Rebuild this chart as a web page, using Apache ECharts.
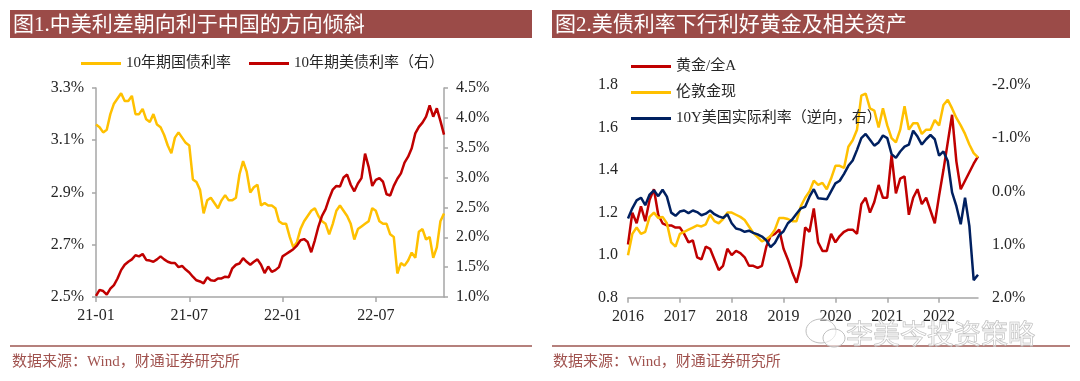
<!DOCTYPE html>
<html><head><meta charset="utf-8">
<script src="https://cdn.jsdelivr.net/npm/echarts@6/dist/echarts.min.js"></script>
<style>html,body{margin:0;padding:0;background:#fff}#c{width:1080px;height:381px}</style>
</head><body><div id="c"></div>
<script>
// ---- Figure 1: weekly dates (2021-01-04 .. 2022-11-14)
const weeks = [
'2021-01-04','2021-01-11','2021-01-18','2021-01-25','2021-02-01','2021-02-08','2021-02-15','2021-02-22',
'2021-03-01','2021-03-08','2021-03-15','2021-03-22','2021-03-29','2021-04-05','2021-04-12','2021-04-19','2021-04-26',
'2021-05-03','2021-05-10','2021-05-17','2021-05-24','2021-05-31','2021-06-07','2021-06-14','2021-06-21','2021-06-28',
'2021-07-05','2021-07-12','2021-07-19','2021-07-26','2021-08-02','2021-08-09','2021-08-16','2021-08-23','2021-08-30',
'2021-09-06','2021-09-13','2021-09-20','2021-09-27','2021-10-04','2021-10-11','2021-10-18','2021-10-25',
'2021-11-01','2021-11-08','2021-11-15','2021-11-22','2021-11-29','2021-12-06','2021-12-13','2021-12-20','2021-12-27',
'2022-01-03','2022-01-10','2022-01-17','2022-01-24','2022-01-31','2022-02-07','2022-02-14','2022-02-21','2022-02-28',
'2022-03-07','2022-03-14','2022-03-21','2022-03-28','2022-04-04','2022-04-11','2022-04-18','2022-04-25',
'2022-05-02','2022-05-09','2022-05-16','2022-05-23','2022-05-30','2022-06-06','2022-06-13','2022-06-20','2022-06-27',
'2022-07-04','2022-07-11','2022-07-18','2022-07-25','2022-08-01','2022-08-08','2022-08-15','2022-08-22','2022-08-29',
'2022-09-05','2022-09-12','2022-09-19','2022-09-26','2022-10-03','2022-10-10','2022-10-17','2022-10-24','2022-10-31',
'2022-11-07','2022-11-14'];
// 10年期国债利率 (%)
const cn10y = [
3.16,3.15,3.13,3.14,3.20,3.24,3.26,3.28,3.25,3.25,
3.27,3.20,3.20,3.22,3.18,3.17,3.20,3.16,3.15,3.12,
3.08,3.05,3.11,3.13,3.11,3.09,3.08,2.95,2.94,2.91,
2.82,2.87,2.88,2.86,2.84,2.87,2.89,2.87,2.87,2.88,
2.97,3.02,2.98,2.90,2.92,2.93,2.85,2.86,2.85,2.85,
2.84,2.79,2.78,2.78,2.73,2.69,2.71,2.76,2.79,2.81,
2.83,2.84,2.81,2.79,2.78,2.74,2.78,2.83,2.85,2.83,
2.81,2.78,2.72,2.76,2.77,2.78,2.79,2.84,2.83,2.79,
2.78,2.78,2.74,2.73,2.59,2.63,2.62,2.64,2.67,2.65,
2.75,2.76,2.72,2.73,2.65,2.69,2.79,2.82];
// 10年期美债利率 (%)
const us10y = [
1.02,1.12,1.10,1.04,1.14,1.20,1.31,1.45,1.54,1.59,
1.63,1.70,1.68,1.72,1.62,1.61,1.59,1.63,1.68,1.63,
1.59,1.57,1.57,1.50,1.52,1.46,1.41,1.34,1.28,1.26,
1.23,1.33,1.28,1.27,1.31,1.31,1.34,1.33,1.48,1.54,
1.56,1.65,1.59,1.54,1.59,1.63,1.54,1.40,1.51,1.42,
1.45,1.50,1.68,1.72,1.76,1.80,1.86,1.95,1.97,1.92,
1.75,1.95,2.18,2.36,2.47,2.65,2.80,2.86,2.85,3.00,
3.05,2.88,2.77,2.90,2.99,3.40,3.18,2.86,2.96,2.99,
2.93,2.72,2.70,2.86,2.98,3.07,3.25,3.35,3.49,3.74,
3.85,3.92,4.02,4.21,4.02,4.16,3.95,3.72];

// ---- Figure 2: monthly (2016-01 .. 2022-10)
const months = [
'2016-01','2016-02','2016-03','2016-04','2016-05','2016-06','2016-07','2016-08','2016-09','2016-10','2016-11','2016-12',
'2017-01','2017-02','2017-03','2017-04','2017-05','2017-06','2017-07','2017-08','2017-09','2017-10','2017-11','2017-12',
'2018-01','2018-02','2018-03','2018-04','2018-05','2018-06','2018-07','2018-08','2018-09','2018-10','2018-11','2018-12',
'2019-01','2019-02','2019-03','2019-04','2019-05','2019-06','2019-07','2019-08','2019-09','2019-10','2019-11','2019-12',
'2020-01','2020-02','2020-03','2020-04','2020-05','2020-06','2020-07','2020-08','2020-09','2020-10','2020-11','2020-12',
'2021-01','2021-02','2021-03','2021-04','2021-05','2021-06','2021-07','2021-08','2021-09','2021-10','2021-11','2021-12',
'2022-01','2022-02','2022-03','2022-04','2022-05','2022-06','2022-07','2022-08','2022-09','2022-10'];
// 黄金/全A
const goldToA = [
1.05,1.20,1.15,1.23,1.16,1.26,1.31,1.19,1.15,1.14,
1.14,1.13,1.13,1.10,1.06,1.07,0.99,0.98,1.04,1.03,
0.98,0.93,0.95,1.03,1.00,1.02,1.01,0.99,0.95,0.95,
0.94,0.95,1.04,1.09,1.10,1.12,1.03,0.98,0.92,0.87,
0.95,1.13,1.11,1.22,1.06,1.02,1.02,1.10,1.06,1.09,
1.11,1.12,1.12,1.10,1.24,1.27,1.20,1.25,1.33,1.27,
1.27,1.47,1.29,1.36,1.37,1.19,1.27,1.31,1.24,1.27,
1.21,1.15,1.28,1.40,1.53,1.66,1.44,1.31,1.35,1.39,
1.43,1.465];
// 伦敦金现
const londonGold = [
1.00,1.10,1.13,1.10,1.11,1.18,1.20,1.175,1.18,1.15,
1.06,1.04,1.10,1.11,1.12,1.13,1.14,1.135,1.145,1.19,
1.16,1.15,1.17,1.20,1.20,1.19,1.18,1.165,1.135,1.105,
1.085,1.065,1.075,1.09,1.12,1.175,1.175,1.17,1.16,1.16,
1.23,1.27,1.30,1.35,1.33,1.34,1.31,1.36,1.42,1.42,
1.41,1.51,1.54,1.59,1.75,1.76,1.69,1.68,1.60,1.69,
1.61,1.55,1.53,1.59,1.70,1.59,1.62,1.62,1.57,1.59,
1.59,1.635,1.61,1.706,1.73,1.69,1.645,1.61,1.57,1.52,
1.48,1.46];
// 10Y美国实际利率 (%)
const usReal10y = [
0.51,0.32,0.17,0.12,0.26,0.06,-0.02,0.09,-0.03,0.10,
0.40,0.46,0.38,0.36,0.41,0.36,0.39,0.45,0.42,0.36,
0.43,0.47,0.50,0.43,0.60,0.70,0.72,0.76,0.74,0.78,
0.81,0.85,0.92,1.05,0.97,0.82,0.75,0.60,0.53,0.42,
0.32,0.29,0.10,-0.04,0.13,0.14,0.15,0.00,-0.15,-0.20,
-0.33,-0.48,-0.58,-0.78,-1.00,-1.08,-0.97,-0.86,-0.92,-1.05,
-1.00,-0.70,-0.63,-0.75,-0.84,-0.88,-1.14,-1.03,-0.88,-0.98,
-1.06,-0.98,-0.67,-0.75,-0.57,0.02,0.28,0.62,0.12,0.65,
1.67,1.57];

const title1 = '图1.中美利差朝向利于中国的方向倾斜';
const title2 = '图2.美债利率下行利好黄金及相关资产';
const sourceText = '数据来源：Wind，财通证券研究所';
const watermark = '李美岑投资策略';
const names = ['10年期国债利率','10年期美债利率（右）','黄金/全A','伦敦金现','10Y美国实际利率（逆向，右）'];

const SERIF = '"Liberation Serif","Noto Sans CJK SC",serif';
const BRICK = '#9B4B48';
const AXIS = '#A6A6A6';
const TXT = '#262626';
const YEL = '#FFC000', RED = '#C00000', NAVY = '#002060';

const chart = echarts.init(document.getElementById('c'), null, {renderer:'canvas'});

function halfYear(i, v){ const m=v.slice(5,7), d=+v.slice(8,10); return (m==='01'||m==='07') && d<=7; }
function janOnly(i, v){ return v.slice(5,7)==='01'; }

const axLabel = {color:TXT, fontFamily:SERIF, fontSize:16};

chart.setOption({
  animation:false,
  textStyle:{fontFamily:SERIF},
  grid:[
    {left:96, top:88, width:348, height:209, containLabel:false},
    {left:628, top:85, width:350, height:212.7, containLabel:false}
  ],
  legend:[
    {data:[names[0],names[1]], left:76, top:51, orient:'horizontal', icon:'rect',
     itemWidth:40, itemHeight:3, itemGap:18,
     textStyle:{color:TXT, fontFamily:SERIF, fontSize:15}},
    {data:[names[2],names[3],names[4]], left:626, top:54, orient:'vertical', icon:'rect',
     itemWidth:40, itemHeight:3, itemGap:11,
     textStyle:{color:TXT, fontFamily:SERIF, fontSize:15}}
  ],
  xAxis:[
    {type:'category', gridIndex:0, data:weeks, boundaryGap:false, position:'bottom',
     axisLine:{onZero:false, lineStyle:{color:AXIS, width:1.5}},
     axisTick:{interval:halfYear, length:5, lineStyle:{color:AXIS, width:1.5}},
     axisLabel:{...axLabel, interval:halfYear, margin:11, formatter:v=>v.slice(2,7)}},
    {type:'category', gridIndex:1, data:months, boundaryGap:false, position:'bottom',
     axisLine:{onZero:false, lineStyle:{color:AXIS, width:1.5}},
     axisTick:{interval:janOnly, length:5, lineStyle:{color:AXIS, width:1.5}},
     axisLabel:{...axLabel, interval:janOnly, margin:11, formatter:v=>v.slice(0,4)}}
  ],
  yAxis:[
    {type:'value', gridIndex:0, min:2.5, max:3.3, interval:0.2, position:'left',
     axisLine:{show:true, onZero:false, lineStyle:{color:AXIS, width:1.5}},
     axisTick:{show:true, length:4, lineStyle:{color:AXIS, width:1.5}},
     splitLine:{show:false},
     axisLabel:{...axLabel, margin:12, formatter:v=>v.toFixed(1)+'%'}},
    {type:'value', gridIndex:0, min:1.0, max:4.5, interval:0.5, position:'right',
     axisLine:{show:true, onZero:false, lineStyle:{color:AXIS, width:1.5}},
     axisTick:{show:true, length:4, lineStyle:{color:AXIS, width:1.5}},
     splitLine:{show:false},
     axisLabel:{...axLabel, margin:12, formatter:v=>v.toFixed(1)+'%'}},
    {type:'value', gridIndex:1, min:0.8, max:1.8, interval:0.2, position:'left',
     axisLine:{show:false, onZero:false}, axisTick:{show:false}, splitLine:{show:false},
     axisLabel:{...axLabel, margin:10, formatter:v=>v.toFixed(1)}},
    {type:'value', gridIndex:1, min:-2, max:2, interval:1, inverse:true, position:'right',
     axisLine:{show:false, onZero:false}, axisTick:{show:false}, splitLine:{show:false},
     axisLabel:{...axLabel, margin:14, formatter:v=>v.toFixed(1)+'%'}}
  ],
  series:[
    {type:'line', name:names[0], xAxisIndex:0, yAxisIndex:0, data:cn10y, showSymbol:false,
     color:YEL, lineStyle:{color:YEL, width:2.5}},
    {type:'line', name:names[1], xAxisIndex:0, yAxisIndex:1, data:us10y, showSymbol:false,
     color:RED, lineStyle:{color:RED, width:2.5}},
    {type:'line', name:names[2], xAxisIndex:1, yAxisIndex:2, data:goldToA, showSymbol:false,
     color:RED, lineStyle:{color:RED, width:2.5}},
    {type:'line', name:names[3], xAxisIndex:1, yAxisIndex:2, data:londonGold, showSymbol:false,
     color:YEL, lineStyle:{color:YEL, width:2.5}},
    {type:'line', name:names[4], xAxisIndex:1, yAxisIndex:3, data:usReal10y, showSymbol:false,
     color:NAVY, lineStyle:{color:NAVY, width:2.5}}
  ],
  graphic:[
    {type:'rect', shape:{x:10, y:10, width:522, height:28}, style:{fill:BRICK}},
    {type:'rect', shape:{x:552, y:10, width:518, height:28}, style:{fill:BRICK}},
    {type:'text', x:13, y:25, style:{text:title1, fill:'#fff', font:'21px '+SERIF, verticalAlign:'middle'}},
    {type:'text', x:555, y:25, style:{text:title2, fill:'#fff', font:'21px '+SERIF, verticalAlign:'middle'}},
    {type:'line', shape:{x1:10, y1:346, x2:532, y2:346}, style:{stroke:'#B5807C', lineWidth:2}},
    {type:'line', shape:{x1:552, y1:346, x2:1070, y2:346}, style:{stroke:'#B5807C', lineWidth:2}},
    {type:'text', x:12, y:362, style:{text:sourceText, fill:'#A0524E', font:'15px '+SERIF, verticalAlign:'middle'}},
    {type:'text', x:553, y:362, style:{text:sourceText, fill:'#A0524E', font:'15px '+SERIF, verticalAlign:'middle'}},
    {type:'ellipse', z:100, shape:{cx:821, cy:331, rx:15, ry:12}, style:{fill:'rgba(255,255,255,0.5)', stroke:'#BDBDBD', lineWidth:1}},
    {type:'ellipse', z:101, shape:{cx:834, cy:338, rx:11, ry:9}, style:{fill:'rgba(255,255,255,0.6)', stroke:'#BDBDBD', lineWidth:1}},
    {type:'text', z:102, x:846, y:334, style:{text:watermark, fill:'rgba(255,255,255,0.4)', stroke:'#B8B8B8', lineWidth:0.8,
      font:'27px "Noto Sans CJK SC"', verticalAlign:'middle'}}
  ]
});
</script>
</body></html>
